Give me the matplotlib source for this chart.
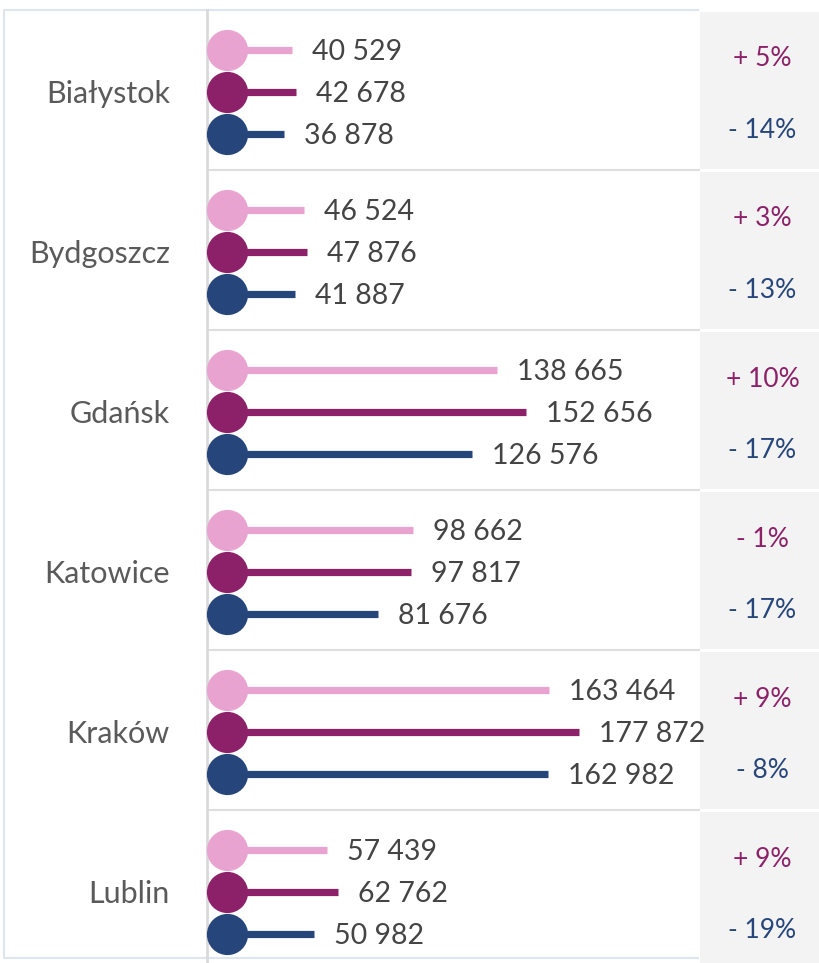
import matplotlib
matplotlib.use("Agg")
import matplotlib.pyplot as plt
from matplotlib.lines import Line2D
from matplotlib.transforms import offset_copy

plt.rcParams['font.family'] = ['Lato', 'DejaVu Sans']

## data
cities = ["Białystok", "Bydgoszcz", "Gdańsk", "Katowice", "Kraków", "Lublin"]
series_pink = [40529, 46524, 138665, 98662, 163464, 57439]
series_purple = [42678, 47876, 152656, 97817, 177872, 62762]
series_navy = [36878, 41887, 126576, 81676, 162982, 50982]
change_purple = [5, 3, 10, -1, 9, 9]
change_navy = [-14, -13, -17, -17, -8, -19]

colors = ["#e8a3d1", "#8c2169", "#26457a"]
W, H = 820, 963

def fmt_num(v):
    return "{:,}".format(v).replace(",", " ")

def fmt_pct(v):
    return "{0} {1}%".format("+" if v >= 0 else "-", abs(v))

fig = plt.figure(figsize=(W / 100., H / 100.), dpi=100)

def px_axes(x0, y0, x1, y1):
    ## axes placed with pixel coordinates, y measured from the top
    return fig.add_axes([x0 / W, 1 - y1 / H, (x1 - x0) / W, (y1 - y0) / H])

## outer light border of the left panel (left, top, bottom only)
bx = [698 / W, 4 / W, 4 / W, 698 / W]
by = [1 - 10 / H, 1 - 10 / H, 1 - 958 / H, 1 - 958 / H]
fig.lines.append(Line2D(bx, by, transform=fig.transFigure, color="#dde6ef", linewidth=1.5))

top = 10
pitch = 160.

## change column on the right
rax = px_axes(700, top, W, H)
rax.set_xlim(0, 1)
rax.set_ylim((H - top) / pitch, 0)
rax.axis("off")
for i in range(len(cities)):
    rax.axhspan(i + 2 / pitch, i + 1 - 1 / pitch, color="#f3f3f3", linewidth=0)
    rax.text(0.52, i + 49 / pitch, fmt_pct(change_purple[i]), ha="center", va="center",
             fontsize=19, color=colors[1])
    rax.text(0.52, i + 120 / pitch, fmt_pct(change_navy[i]), ha="center", va="center",
             fontsize=19, color=colors[2])

ax = px_axes(207, top, 700, H)
ax.set_zorder(3)
ax.set_xlim(0, 493 / 0.00209)
ax.set_ylim((H - top) / pitch, 0)
ax.patch.set_alpha(0)
for s in ("top", "right", "bottom"):
    ax.spines[s].set_visible(False)
ax.spines["left"].set_color("#d9d9d9")
ax.spines["left"].set_linewidth(2)
ax.set_xticks([])
ax.set_yticks([])

offs = [-42 / pitch, 0, 42 / pitch]
circ_tr = offset_copy(ax.transData, fig=fig, x=20, y=0, units="dots")
for i, city in enumerate(cities):
    yc = i + 0.5 + 2 / pitch
    if i > 0:
        ax.axhline(i, color="#dedede", linewidth=1.5, zorder=1)
    for j, vals in enumerate([series_pink, series_purple, series_navy]):
        y = yc + offs[j]
        ax.hlines(y, 0, vals[i], color=colors[j], linewidth=5.2, capstyle="butt", zorder=2)
        ax.scatter([0], [y], s=880, color=colors[j], transform=circ_tr, zorder=3,
                   linewidths=0, clip_on=False)
        ax.annotate(fmt_num(vals[i]), xy=(vals[i], y), xytext=(20, -2), textcoords="offset pixels",
                    ha="left", va="center", fontsize=20.5, color="#444444",
                    annotation_clip=False)
    ax.annotate(city, xy=(0, yc), xytext=(-37, -2), textcoords="offset pixels",
                ha="right", va="center", fontsize=22, color="#5a5a5a",
                annotation_clip=False)

fig.savefig("out.png", dpi=100)
